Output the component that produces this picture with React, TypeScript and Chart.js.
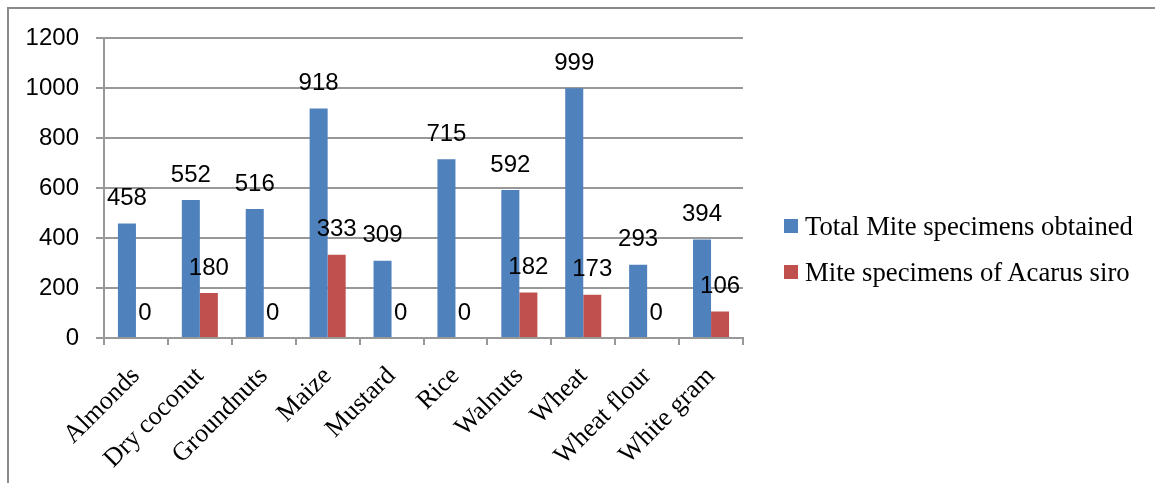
import React, { useEffect, useRef } from "react";
import { Chart, registerables } from "chart.js";

Chart.register(...registerables);

const categories = [
  "Almonds",
  "Dry coconut",
  "Groundnuts",
  "Maize",
  "Mustard",
  "Rice",
  "Walnuts",
  "Wheat",
  "Wheat flour",
  "White gram",
];
const totalMites = [458, 552, 516, 918, 309, 715, 592, 999, 293, 394];
const acarusSiro = [0, 180, 0, 333, 0, 0, 182, 173, 0, 106];
const seriesNames = ["Total Mite specimens obtained", "Mite specimens of Acarus siro"];
const seriesColors = ["#4F81BD", "#C0504D"];
const yTicks = [0, 200, 400, 600, 800, 1000, 1200];

const W = 1155;
const H = 483;
const SANS = '"Liberation Sans", Arial, sans-serif';
const SERIF = '"Liberation Serif", "Times New Roman", serif';
const GRID = "#989898";

// Writes each bar's value just above its top.
const valueLabels = {
  id: "valueLabels",
  afterDatasetsDraw(chart: any) {
    const ctx = chart.ctx;
    ctx.save();
    ctx.font = `24px ${SANS}`;
    ctx.fillStyle = "#000";
    ctx.textAlign = "center";
    ctx.textBaseline = "alphabetic";
    chart.data.datasets.forEach((ds: any, i: number) => {
      const meta = chart.getDatasetMeta(i);
      meta.data.forEach((bar: any, j: number) => {
        ctx.fillText(String(ds.data[j]), bar.x, bar.y - 18.5);
      });
    });
    ctx.restore();
  },
};

export default function App() {
  const canvasRef = useRef<HTMLCanvasElement | null>(null);

  useEffect(() => {
    const canvas = canvasRef.current;
    if (!canvas) return;
    const chart = new Chart(canvas, {
      type: "bar",
      data: {
        labels: categories,
        datasets: [
          {
            label: seriesNames[0],
            data: totalMites,
            backgroundColor: seriesColors[0],
            categoryPercentage: 0.564,
            barPercentage: 1,
          },
          {
            label: seriesNames[1],
            data: acarusSiro,
            backgroundColor: seriesColors[1],
            categoryPercentage: 0.564,
            barPercentage: 1,
          },
        ],
      },
      options: {
        responsive: false,
        animation: false,
        devicePixelRatio: 1,
        layout: { padding: { left: 0, top: 38, right: W - 743, bottom: 0 } },
        plugins: {
          legend: { display: false },
          tooltip: { enabled: false },
        },
        scales: {
          x: {
            offset: true,
            grid: {
              offset: true,
              drawOnChartArea: false,
              drawTicks: true,
              tickLength: 7,
              color: GRID,
              lineWidth: 2,
            },
            border: { display: true, color: GRID, width: 2 },
            ticks: {
              autoSkip: false,
              maxRotation: 45,
              minRotation: 45,
              padding: 16,
              color: "#000",
              font: { family: SERIF, size: 26 },
            },
            afterFit(scale: any) {
              scale.height = H - 338;
            },
          },
          y: {
            min: 0,
            max: 1200,
            afterBuildTicks(scale: any) {
              scale.ticks = yTicks.map((v) => ({ value: v }));
            },
            grid: {
              color: GRID,
              lineWidth: 2,
              drawTicks: true,
              tickLength: 8,
            },
            border: { display: true, color: GRID, width: 2 },
            ticks: {
              padding: 17,
              color: "#000",
              font: { family: SANS, size: 24 },
              callback: (v: any) => String(v),
            },
            afterFit(scale: any) {
              scale.width = 104;
            },
          },
        },
      },
      plugins: [valueLabels],
    });
    return () => chart.destroy();
  }, []);

  const legendRow = (i: number, top: number) => (
    <div
      key={i}
      style={{
        position: "absolute",
        left: 784,
        top,
        height: 30,
        display: "flex",
        alignItems: "center",
        whiteSpace: "nowrap",
      }}
    >
      <span
        style={{
          display: "inline-block",
          width: 14,
          height: 14,
          background: seriesColors[i],
          marginRight: 7,
        }}
      />
      <span style={{ font: `26.7px ${SERIF}`, color: "#000", lineHeight: "30px" }}>
        {seriesNames[i]}
      </span>
    </div>
  );

  return (
    <div
      style={{
        position: "absolute",
        left: 0,
        top: 0,
        width: W,
        height: H,
        overflow: "hidden",
        background: "#fff",
      }}
    >
      <div
        style={{
          position: "absolute",
          left: 7,
          top: 7,
          width: W,
          height: H,
          borderTop: "2px solid #8a8a8a",
          borderLeft: "2px solid #8a8a8a",
        }}
      />
      <canvas
        ref={canvasRef}
        width={W}
        height={H}
        style={{ position: "absolute", left: 0, top: 0 }}
      />
      {legendRow(0, 211)}
      {legendRow(1, 257)}
    </div>
  );
}
